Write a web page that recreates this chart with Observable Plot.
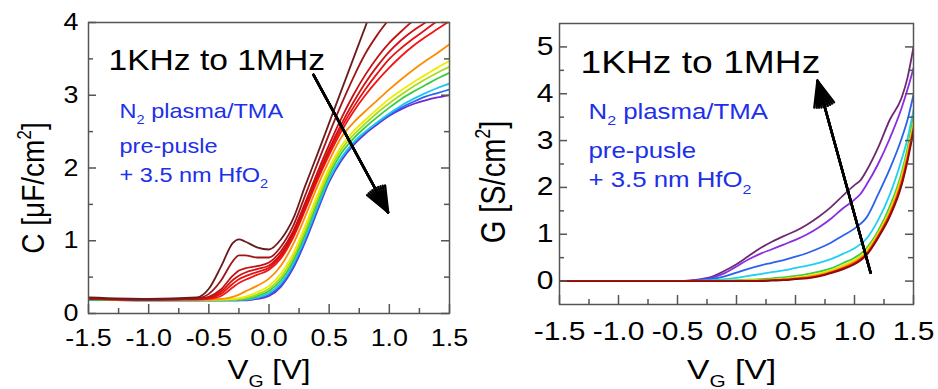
<!DOCTYPE html>
<html>
<head>
<meta charset="utf-8">
<script src="https://cdn.jsdelivr.net/npm/d3@7"></script>
<script src="https://cdn.jsdelivr.net/npm/@observablehq/plot@0.6"></script>
<style>
  body { margin: 0; background: #fff; }
  #row { display: flex; width: 938px; height: 389px; }
</style>
</head>
<body>
<div id="row"></div>
<script>
// ---------- axes ----------
const xTicks = [-1.5, -1.0, -0.5, 0, 0.5, 1.0, 1.5];
const xMinorTicks = [-1.25, -0.75, -0.25, 0.25, 0.75, 1.25];
const cTicks = [0, 1, 2, 3, 4];
const cMinorTicks = [0.5, 1.5, 2.5, 3.5];
const gTicks = [0, 1, 2, 3, 4, 5];
const gMinorTicks = [0.5, 1.5, 2.5, 3.5, 4.5];

// ---------- capacitance C (uF/cm^2) vs gate voltage, 1 kHz (brown) ... 1 MHz (purple) ----------
const vgC = [-1.5, -1.0, -0.6, -0.5, -0.4, -0.3, -0.25, -0.2, -0.1, 0, 0.1, 0.2, 0.3, 0.4, 0.5, 0.6, 0.7, 0.8, 0.9, 1.0, 1.1, 1.2, 1.3, 1.4, 1.5];
const cBrown   = [0.22, 0.2, 0.22, 0.34, 0.64, 0.97, 1.02, 0.99, 0.91, 0.88, 1.02, 1.3, 1.75, 2.18, 2.62, 3.06, 3.5, 3.94, 4.38, 4.8, 5.2, 5.6, 6.0, 6.4, 6.8];
const cDarkRed = [0.21, 0.19, 0.21, 0.27, 0.45, 0.72, 0.8, 0.8, 0.77, 0.77, 0.92, 1.2, 1.62, 2.05, 2.47, 2.87, 3.24, 3.57, 3.83, 4.05, 4.25, 4.45, 4.65, 4.85, 5.05];
const cRed1    = [0.2, 0.19, 0.2, 0.23, 0.33, 0.52, 0.59, 0.62, 0.65, 0.7, 0.86, 1.13, 1.52, 1.93, 2.32, 2.68, 3.0, 3.28, 3.52, 3.72, 3.88, 4.03, 4.18, 4.32, 4.45];
const cRed2    = [0.2, 0.19, 0.2, 0.22, 0.3, 0.46, 0.52, 0.56, 0.61, 0.66, 0.82, 1.1, 1.48, 1.88, 2.26, 2.6, 2.9, 3.17, 3.4, 3.6, 3.76, 3.89, 4.0, 4.12, 4.22];
const cRed3    = [0.2, 0.19, 0.2, 0.21, 0.27, 0.41, 0.47, 0.51, 0.57, 0.63, 0.79, 1.07, 1.45, 1.85, 2.22, 2.55, 2.83, 3.08, 3.3, 3.5, 3.65, 3.78, 3.9, 4.02, 4.12];
const cRed4    = [0.2, 0.19, 0.19, 0.2, 0.24, 0.36, 0.42, 0.46, 0.53, 0.6, 0.76, 1.04, 1.42, 1.82, 2.18, 2.5, 2.77, 3.0, 3.2, 3.38, 3.54, 3.68, 3.8, 3.91, 4.02];
const cOrange  = [0.2, 0.19, 0.19, 0.19, 0.2, 0.23, 0.26, 0.3, 0.38, 0.48, 0.66, 0.95, 1.33, 1.74, 2.1, 2.42, 2.62, 2.78, 2.93, 3.08, 3.22, 3.35, 3.47, 3.58, 3.7];
const cYellow  = [0.2, 0.19, 0.19, 0.19, 0.19, 0.2, 0.21, 0.23, 0.29, 0.38, 0.55, 0.82, 1.2, 1.62, 2.0, 2.3, 2.5, 2.66, 2.81, 2.95, 3.07, 3.18, 3.28, 3.38, 3.47];
const cLime    = [0.2, 0.19, 0.19, 0.19, 0.19, 0.19, 0.2, 0.21, 0.26, 0.34, 0.5, 0.77, 1.14, 1.56, 1.95, 2.25, 2.45, 2.61, 2.76, 2.89, 3.01, 3.12, 3.22, 3.31, 3.39];
const cGreen   = [0.19, 0.18, 0.18, 0.18, 0.18, 0.19, 0.19, 0.2, 0.24, 0.31, 0.46, 0.72, 1.09, 1.51, 1.9, 2.2, 2.4, 2.56, 2.7, 2.83, 2.95, 3.05, 3.14, 3.23, 3.31];
const cCyan    = [0.19, 0.18, 0.18, 0.18, 0.18, 0.18, 0.19, 0.19, 0.22, 0.28, 0.42, 0.68, 1.04, 1.46, 1.85, 2.14, 2.35, 2.5, 2.63, 2.75, 2.86, 2.95, 3.03, 3.1, 3.16];
const cBlue    = [0.19, 0.18, 0.18, 0.18, 0.18, 0.18, 0.18, 0.19, 0.21, 0.26, 0.39, 0.64, 1.0, 1.42, 1.83, 2.12, 2.33, 2.49, 2.62, 2.73, 2.83, 2.91, 2.98, 3.03, 3.08];
const cPurple  = [0.19, 0.18, 0.18, 0.18, 0.18, 0.18, 0.18, 0.18, 0.2, 0.24, 0.37, 0.62, 0.98, 1.4, 1.81, 2.1, 2.31, 2.47, 2.6, 2.72, 2.81, 2.88, 2.93, 2.97, 3.0];

const cSeries = [cPurple, cBlue, cCyan, cGreen, cLime, cYellow, cOrange, cRed4, cRed3, cRed2, cRed1, cDarkRed, cBrown];
const cColors = ["#7028d0", "#2c66f0", "#1cc8f0", "#3ccc40", "#a6dc1c", "#ecec00", "#ff8c00", "#f41414", "#e41212", "#d41010", "#c41010", "#a01616", "#6a1c1c"];

// ---------- conductance G (S/cm^2) vs gate voltage, 1 MHz (plum) ... 1 kHz (dark red) ----------
const vgG = [-1.5, -1.0, -0.5, -0.4, -0.3, -0.2, -0.1, 0, 0.1, 0.2, 0.3, 0.4, 0.5, 0.6, 0.7, 0.8, 0.9, 1.0, 1.05, 1.1, 1.2, 1.3, 1.4, 1.45, 1.5];
const gPlum    = [0, 0, 0, 0.01, 0.04, 0.1, 0.22, 0.36, 0.53, 0.7, 0.84, 0.96, 1.07, 1.21, 1.38, 1.58, 1.82, 2.05, 2.15, 2.35, 2.85, 3.45, 3.92, 4.35, 5.0];
const gViolet  = [0, 0, 0, 0.01, 0.03, 0.08, 0.17, 0.31, 0.46, 0.58, 0.68, 0.78, 0.88, 1.0, 1.15, 1.33, 1.55, 1.74, 1.86, 2.05, 2.5, 3.05, 3.7, 4.1, 4.55];
const gBlue    = [0, 0, 0, 0, 0.02, 0.05, 0.1, 0.18, 0.26, 0.33, 0.39, 0.45, 0.52, 0.6, 0.7, 0.82, 0.97, 1.12, 1.22, 1.35, 1.85, 2.4, 3.05, 3.45, 3.98];
const gCyan    = [0, 0, 0, 0, 0.01, 0.02, 0.04, 0.07, 0.11, 0.15, 0.19, 0.23, 0.28, 0.33, 0.39, 0.47, 0.58, 0.7, 0.79, 0.9, 1.3, 1.85, 2.6, 3.05, 3.65];
const gGreen   = [0, 0, 0, 0, 0, 0.01, 0.01, 0.02, 0.03, 0.04, 0.06, 0.08, 0.11, 0.15, 0.2, 0.27, 0.38, 0.5, 0.58, 0.7, 1.07, 1.6, 2.32, 2.85, 3.5];
const gYellow  = [0, 0, 0, 0, 0, 0, 0.01, 0.01, 0.02, 0.02, 0.03, 0.05, 0.08, 0.11, 0.16, 0.23, 0.33, 0.45, 0.53, 0.65, 1.02, 1.52, 2.24, 2.75, 3.4];
const gOrange  = [0, 0, 0, 0, 0, 0, 0, 0, 0.01, 0.01, 0.02, 0.04, 0.06, 0.09, 0.13, 0.2, 0.29, 0.41, 0.49, 0.6, 0.98, 1.46, 2.17, 2.68, 3.3];
const gRed     = [0, 0, 0, 0, 0, 0, 0, 0, 0, 0.01, 0.02, 0.03, 0.05, 0.07, 0.11, 0.18, 0.27, 0.38, 0.46, 0.57, 0.95, 1.42, 2.1, 2.62, 3.25];
const gDarkRed = [0, 0, 0, 0, 0, 0, 0, 0, 0, 0, 0.01, 0.02, 0.04, 0.06, 0.1, 0.17, 0.25, 0.36, 0.44, 0.55, 0.92, 1.38, 2.05, 2.57, 3.2];

const gSeries = [gPlum, gViolet, gBlue, gCyan, gGreen, gYellow, gOrange, gRed, gDarkRed];
const gColors = ["#6e2a70", "#8a2ce0", "#2a62ec", "#20d0f0", "#3ccc40", "#e6e600", "#ff8c00", "#e01010", "#8a0c0c"];

// ---------- annotations ----------
const freqNote = "1KHz to 1MHz";
const sampleNote = ["N_2 plasma/TMA", "pre-pusle", "+ 3.5 nm HfO_2"];
const cLabel = "C [\u03bcF/cm^2]";
const gLabel = "G [S/cm^2]";
const vgLabel = "V_G [V]";
const cArrow = [{x1: 0.37, y1: 3.28, x2: 0.99, y2: 1.39}];
const gArrow = [{x1: 1.136, y1: 0.18, x2: 0.686, y2: 4.28}];

const FONT = "'Liberation Sans', Arial, Helvetica, sans-serif";
const NOTE_BLUE = "#2030e8";
const AXIS_GREY = "#555";

function rows(vg, series) {
  return series.flatMap((vals, s) => vg.map((v, j) => ({vg: v, val: vals[j], s})));
}

// inward tick marks on the bottom, left and right edges
function tickRules({xMajor, xMinor, yMajor, yMinor, plotW, plotH}) {
  const st = {stroke: AXIS_GREY, strokeWidth: 1.5};
  return [
    Plot.ruleX(xMajor, {x: d => d, insetTop: plotH - 9, ...st}),
    Plot.ruleX(xMinor, {x: d => d, insetTop: plotH - 5, ...st}),
    Plot.ruleY(yMajor, {y: d => d, insetRight: plotW - 8, ...st}),
    Plot.ruleY(yMinor, {y: d => d, insetRight: plotW - 5, ...st}),
    Plot.ruleY(yMajor, {y: d => d, insetLeft: plotW - 8, ...st}),
    Plot.ruleY(yMinor, {y: d => d, insetLeft: plotW - 5, ...st})
  ];
}

// tick labels as text marks on the frame edges
function tickLabels({xMajor, yMajor, size, xPad, yPad}) {
  return [
    Plot.text(xMajor, {x: d => d, frameAnchor: "bottom", text: d => d.toFixed(1), dy: xPad, lineAnchor: "top", textAnchor: "middle", fontSize: size, fill: "black"}),
    Plot.text(yMajor, {y: d => d, frameAnchor: "left", text: d => String(d), dx: -yPad, lineAnchor: "middle", textAnchor: "end", fontSize: size, fill: "black"})
  ];
}

function arrowMarks(data) {
  // several head angles stacked so the head reads as a solid triangle
  return [44, 34, 24, 14, 4].map(a => Plot.arrow(data, {
    x1: "x1", y1: "y1", x2: "x2", y2: "y2",
    stroke: "black", strokeWidth: 2.4, headLength: 17, headAngle: a
  }));
}

// sub/superscript markup: "_x" lowers, "^x" raises one character
function richText(svg) {
  const ns = "http://www.w3.org/2000/svg";
  svg.querySelectorAll("text").forEach(t => {
    const s = t.textContent;
    if (!/[_^]/.test(s)) return;
    const fs = parseFloat(getComputedStyle(t).fontSize);
    t.textContent = "";
    let pending = 0;
    for (const p of s.split(/([_^]\S)/)) {
      if (!p) continue;
      const ts = document.createElementNS(ns, "tspan");
      if (p[0] === "_" || p[0] === "^") {
        const shift = p[0] === "_" ? 0.3 * fs : -0.42 * fs;
        ts.setAttribute("font-size", 0.62 * fs);
        ts.setAttribute("dy", pending + shift);
        ts.textContent = p.slice(1);
        pending = -shift;
      } else {
        if (pending) ts.setAttribute("dy", pending);
        ts.textContent = p;
        pending = 0;
      }
      t.appendChild(ts);
    }
  });
}

// widen glyphs horizontally about each label's anchor
function stretchText(svg, k) {
  svg.querySelectorAll("text").forEach(t => {
    const b = t.getBBox();
    const tr = t.getAttribute("transform") || "";
    const rot = tr.match(/rotate\(\s*(-?[\d.]+)/);
    if (rot && Math.abs(+rot[1]) > 45) {
      const cy = b.y + b.height / 2;
      t.setAttribute("transform", `${tr} translate(0,${cy}) scale(1,${k}) translate(0,${-cy})`);
    } else {
      const anchor = getComputedStyle(t).textAnchor;
      const cx = anchor === "middle" ? b.x + b.width / 2 : anchor === "end" ? b.x + b.width : b.x;
      t.setAttribute("transform", `${tr} translate(${cx},0) scale(${k},1) translate(${-cx},0)`);
    }
  });
}

const row = document.getElementById("row");

// ---------- left panel: C-V ----------
{
  const W = 470, H = 389, m = {top: 22, right: 21, bottom: 76, left: 88};
  const plotW = W - m.left - m.right, plotH = H - m.top - m.bottom;
  const svg = Plot.plot({
    width: W, height: H,
    marginTop: m.top, marginRight: m.right, marginBottom: m.bottom, marginLeft: m.left,
    style: {fontFamily: FONT, fontSize: "24px", background: "white", color: "black", overflow: "visible"},
    x: {domain: [-1.5, 1.5], axis: null},
    y: {domain: [0, 4], axis: null},
    marks: [
      Plot.line(rows(vgC, cSeries), {x: "vg", y: "val", z: "s", stroke: d => cColors[d.s], strokeWidth: 1.8, curve: "monotone-x", clip: true}),
      ...tickRules({xMajor: xTicks, xMinor: xMinorTicks, yMajor: cTicks, yMinor: cMinorTicks, plotW, plotH}),
      Plot.frame({stroke: AXIS_GREY, strokeWidth: 1.5}),
      ...tickLabels({xMajor: xTicks, yMajor: cTicks, size: 24, xPad: 15, yPad: 10}),
      ...arrowMarks(cArrow),
      Plot.text([freqNote], {x: -1.334, y: 3.35, text: d => d, fontSize: 30, textAnchor: "start", lineAnchor: "bottom", fill: "black"}),
      Plot.text(sampleNote, {x: -1.242, y: (d, i) => [2.69, 2.21, 1.81][i], text: d => d, fontSize: 21, textAnchor: "start", lineAnchor: "bottom", fill: NOTE_BLUE}),
      Plot.text([cLabel], {frameAnchor: "left", text: d => d, rotate: -90, textAnchor: "middle", lineAnchor: "bottom", dx: -46, dy: 20, fontSize: 28, fill: "black"}),
      Plot.text([vgLabel], {frameAnchor: "bottom", text: d => d, textAnchor: "middle", lineAnchor: "bottom", dy: 65, fontSize: 28, fill: "black"})
    ]
  });
  row.appendChild(svg);
  richText(svg);
  stretchText(svg, 1.12);
}

// ---------- right panel: G-V ----------
{
  const W = 468, H = 389, m = {top: 23, right: 25, bottom: 85, left: 89};
  const plotW = W - m.left - m.right, plotH = H - m.top - m.bottom;
  const svg = Plot.plot({
    width: W, height: H,
    marginTop: m.top, marginRight: m.right, marginBottom: m.bottom, marginLeft: m.left,
    style: {fontFamily: FONT, fontSize: "25px", background: "white", color: "black", overflow: "visible"},
    x: {domain: [-1.5, 1.5], axis: null},
    y: {domain: [-0.5, 5.5], axis: null},
    marks: [
      Plot.line(rows(vgG, gSeries), {x: "vg", y: "val", z: "s", stroke: d => gColors[d.s], strokeWidth: 1.8, curve: "monotone-x", clip: true}),
      ...tickRules({xMajor: xTicks, xMinor: xMinorTicks, yMajor: gTicks, yMinor: gMinorTicks, plotW, plotH}),
      Plot.frame({stroke: AXIS_GREY, strokeWidth: 1.5}),
      ...tickLabels({xMajor: xTicks, yMajor: gTicks, size: 25, xPad: 18, yPad: 6}),
      ...arrowMarks(gArrow),
      Plot.text([freqNote], {x: -1.322, y: 4.45, text: d => d, fontSize: 31, textAnchor: "start", lineAnchor: "bottom", fill: "black"}),
      Plot.text(sampleNote, {x: -1.254, y: (d, i) => [3.47, 2.62, 2.0][i], text: d => d, fontSize: 21.5, textAnchor: "start", lineAnchor: "bottom", fill: NOTE_BLUE}),
      Plot.text([gLabel], {frameAnchor: "left", text: d => d, rotate: -90, textAnchor: "middle", lineAnchor: "bottom", dx: -57, dy: 18, fontSize: 29, fill: "black"}),
      Plot.text([vgLabel], {frameAnchor: "bottom", text: d => d, textAnchor: "middle", lineAnchor: "bottom", dx: -5, dy: 74, fontSize: 28, fill: "black"})
    ]
  });
  row.appendChild(svg);
  richText(svg);
  stretchText(svg, 1.2);
}
</script>
</body>
</html>
